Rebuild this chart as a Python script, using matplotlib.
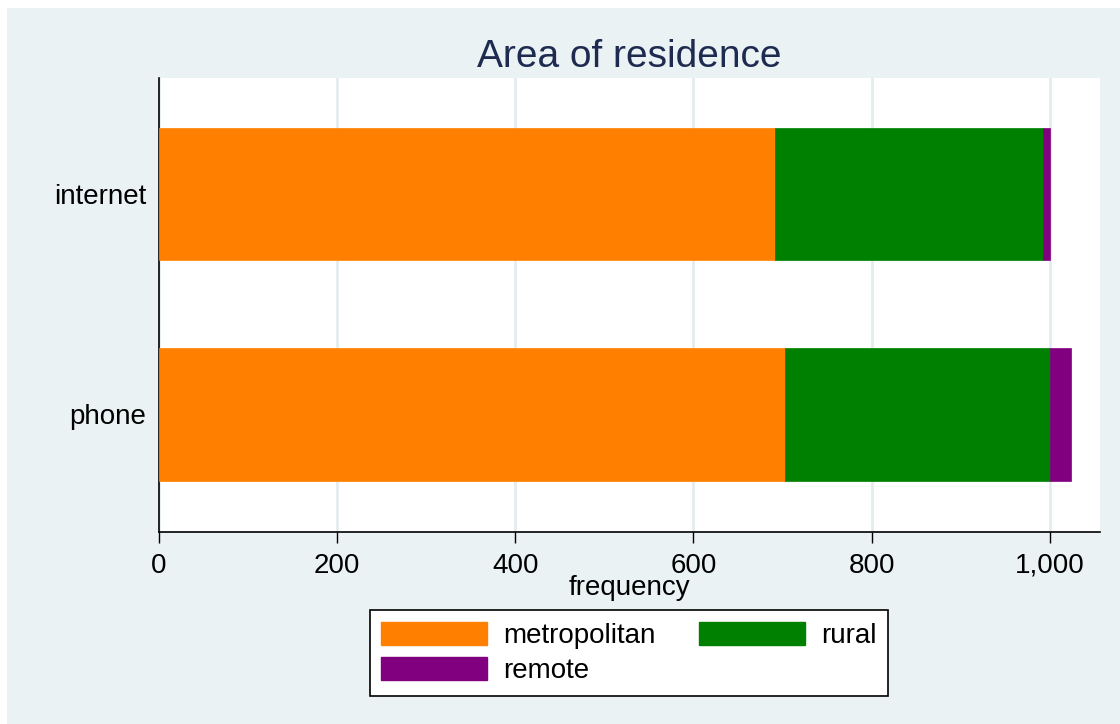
import matplotlib
matplotlib.use("Agg")
import matplotlib.pyplot as plt
from matplotlib.patches import Rectangle, Patch

# Survey mode by area of residence (counts)
modes = ["phone", "internet"]
areas = ["metropolitan", "rural", "remote"]
metropolitan = [703, 692]
rural = [297, 300]
remote = [24, 8]
x_ticks = [0, 200, 400, 600, 800, 1000]
x_tick_labels = ["0", "200", "400", "600", "800", "1,000"]

colors = {"metropolitan": "#FF8000", "rural": "#008000", "remote": "#800080"}
bg = "#EAF2F3"
font = "Liberation Sans"
plt.rcParams["font.family"] = [font, "DejaVu Sans"]
fs = 20

fig = plt.figure(figsize=(11.2, 7.24), dpi=100, facecolor="white")
# shaded graph region
fig.patches.append(Rectangle((7 / 1120, 0), 1 - 7 / 1120, 1 - 8 / 724,
                             transform=fig.transFigure, facecolor=bg,
                             edgecolor="none", zorder=-10))

ax = fig.add_axes([158.5 / 1120, 1 - 532 / 724, (1100 - 158.5) / 1120, (532 - 78) / 724])
ax.set_facecolor("white")

ypos = list(range(len(modes)))
h = 0.6
left = [0] * len(modes)
series = {"metropolitan": metropolitan, "rural": rural, "remote": remote}
for name in areas:
    vals = series[name]
    ax.barh(ypos, vals, height=h, left=left, color=colors[name],
            edgecolor=colors[name], linewidth=0.5, zorder=3)
    left = [l + v for l, v in zip(left, vals)]

ax.set_xlim(0, 1056)
ax.set_ylim(-0.533, 1.526)
ax.set_xticks(x_ticks)
ax.set_xticklabels(x_tick_labels, fontsize=fs)
ax.set_yticks(ypos)
ax.set_yticklabels(modes, fontsize=fs)
ax.tick_params(axis="x", length=8, width=1, color="black", pad=7)
ax.tick_params(axis="y", length=0, pad=9)
ax.grid(axis="x", color="#E3ECEF", linewidth=2, zorder=0)
ax.set_axisbelow(True)
for s in ["top", "right"]:
    ax.spines[s].set_visible(False)
for s in ["left", "bottom"]:
    ax.spines[s].set_color("black")
    ax.spines[s].set_linewidth(1.2)

ax.set_xlabel("frequency", fontsize=fs, labelpad=-3)
ax.set_title("Area of residence", fontsize=28, color="#1E2A50", pad=8)

handles = [Patch(facecolor=colors[a], edgecolor=colors[a]) for a in areas]
order = [0, 2, 1]
leg = fig.legend([handles[i] for i in order], [areas[i] for i in order],
                 ncol=2, loc="center", bbox_to_anchor=(629 / 1120, 1 - 653 / 724),
                 fontsize=fs, frameon=True, fancybox=False, edgecolor="black",
                 framealpha=1, handlelength=3.8, handleheight=0.9,
                 handletextpad=0.6, columnspacing=1.55, labelspacing=0.3,
                 borderpad=0.42, borderaxespad=0)
leg.get_frame().set_linewidth(1.2)
leg.get_frame().set_facecolor("white")

fig.savefig("out.png", dpi=100, facecolor=fig.get_facecolor())
